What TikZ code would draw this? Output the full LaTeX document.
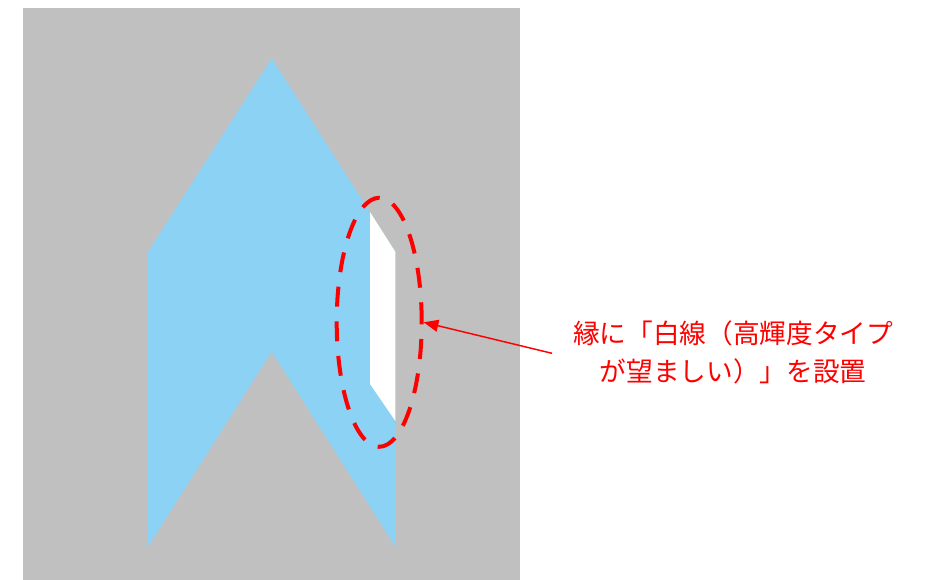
\documentclass[tikz,border=0pt]{standalone}
\usepackage{fontspec}
\newfontfamily\jpfont{Noto Sans CJK JP}
\definecolor{roadgray}{RGB}{192, 192, 192}
\definecolor{markblue}{RGB}{140, 210, 244}
\definecolor{noteRed}{RGB}{255, 0, 0}
\usetikzlibrary{shapes.geometric, arrows.meta, positioning}

\begin{document}
\begin{tikzpicture}[x=0.75pt, y=-0.75pt,
  rimring/.style={draw=noteRed, ellipse, line width=3pt, dash pattern=on 15pt off 11pt,
    minimum width=85*0.75pt, minimum height=249*0.75pt, inner sep=0pt},
  notetext/.style={text=noteRed, align=center, font=\jpfont\fontsize{20}{29}\selectfont},
  pointer/.style={draw=noteRed, line width=1.1pt, -{Triangle[length=11pt, width=9pt]}}]
  \useasboundingbox (0,0) rectangle (932,580);
  % road surface
  \fill[roadgray] (23,8) rectangle (520,580);
  % chevron marking
  \fill[markblue] (148,252) -- (271.7,58.3) -- (395.4,252) -- (395.4,546.7)
    -- (271.7,351.7) -- (148,546.7) -- cycle;
  % white edge line
  \fill[white] (370,212) -- (395.4,252) -- (395.4,421) -- (370,384) -- cycle;
  \node[rimring] (rim) at (379.2,322.3) {};
  \node[notetext] (note) at (733,352.5) {縁に「白線（高輝度タイプ\\が望ましい）」を設置};
  \coordinate (tail) at (552,353.3);
  \draw[pointer] (tail) -- (rim.east);
\end{tikzpicture}
\end{document}
